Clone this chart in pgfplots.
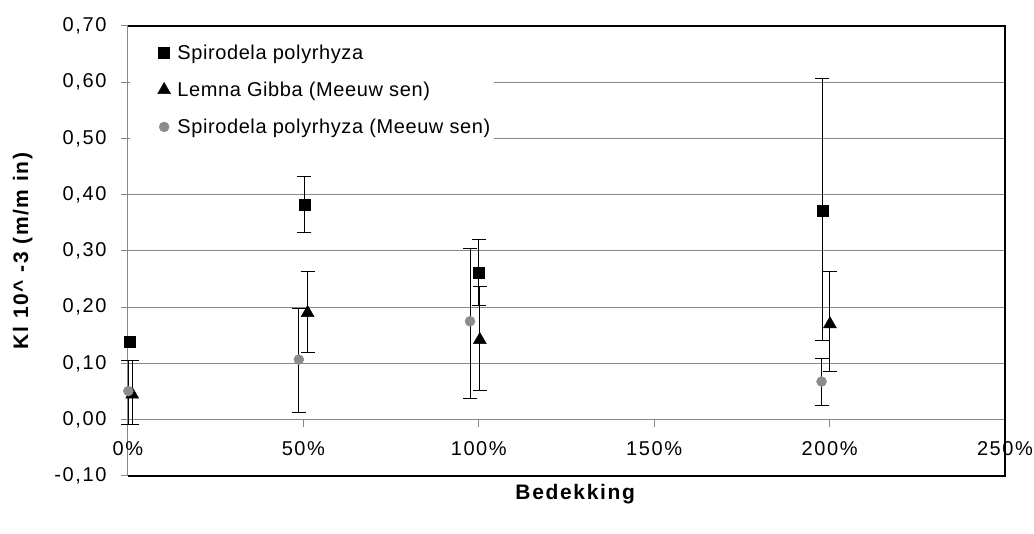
\documentclass[border=0pt]{standalone}
\usepackage{fontspec}
\setmainfont{Liberation Sans}
\newfontfamily\tickfont{Liberation Sans}[LetterSpace=8]
\newfontfamily\legfont{Liberation Sans}[LetterSpace=3]
\usepackage{pgfplots}
\pgfplotsset{compat=1.18}
\definecolor{gridgray}{RGB}{136,136,136}
\definecolor{ptgray}{RGB}{140,140,140}
\begin{document}
\begin{tikzpicture}
\begin{axis}[
  name=ax,
  scale only axis,
  width=877pt, height=450pt,
  xmin=0, xmax=250, ymin=-0.1, ymax=0.7,
  axis x line*=middle,
  axis y line*=left,
  axis line style={gridgray, line width=1pt},
  hide obscured x ticks=false,
  hide obscured y ticks=false,
  xtick={0,50,100,150,200,250},
  xticklabels={0\%,50\%,100\%,150\%,200\%,250\%},
  ytick={-0.1,0,0.1,0.2,0.3,0.4,0.5,0.6,0.7},
  tick align=outside,
  major tick length=7pt,
  tick style={gridgray, line width=1pt},
  ymajorgrids,
  grid style={gridgray, line width=1pt},
  yticklabel style={/pgf/number format/fixed, /pgf/number format/fixed zerofill, /pgf/number format/precision=2, /pgf/number format/use comma, /pgf/number format/assume math mode=true, xshift=-11pt},
  tick label style={font=\tickfont\fontsize{20}{24}\selectfont, black},
  xticklabel style={yshift=-11pt},
  xlabel={Bedekking},
  ylabel={Kl 10\^{} -3 (m/m in)},
  label style={font=\tickfont\bfseries\fontsize{21}{25}\selectfont},
  xlabel style={at={(axis description cs:0.51,-0.052)}, anchor=base},
  ylabel style={at={(axis description cs:-0.12,0.5)}, anchor=center},
  clip=false,
  legend cell align=left,
  legend style={at={(rel axis cs:0.002,0.985)}, anchor=north west, draw=none, fill=white,
    font=\legfont\fontsize{20}{24}\selectfont, row sep=17pt, inner xsep=2pt, inner ysep=10pt},
  legend image code/.code={\path (0pt,0pt) (43pt,0pt); \draw[#1] plot coordinates {(32pt,0pt)};},
  error bars/y dir=both, error bars/y explicit,
  error bars/error bar style={black, line width=1pt},
  error bars/error mark options={rotate=90, black, mark size=7pt, line width=1pt},
]
% Spirodela polyrhyza
\addplot[only marks, mark=square*, mark size=5.5pt, black]
  coordinates {
  (50.3,0.383) += (0,0.050) -= (0,0.050)
  (100.0,0.261) += (0,0.059) -= (0,0.058)
  (197.9,0.372) += (0,0.235) -= (0,0.232)
  };
\addlegendentry{Spirodela polyrhyza}
% Lemna Gibba (Meeuwsen)
\addplot[only marks, mark=triangle*, mark size=7.5pt, black]
  coordinates {
  (1.2,0.045) += (0,0.061) -= (0,0.053)
  (51.2,0.190) += (0,0.073) -= (0,0.070)
  (100.3,0.142) += (0,0.094) -= (0,0.090)
  (200.1,0.170) += (0,0.093) -= (0,0.084)
  };
\addlegendentry{Lemna Gibba (Meeuw sen)}
% Spirodela polyrhyza (Meeuwsen)
\addplot[only marks, mark=*, mark size=5pt, ptgray, mark options={draw=ptgray, fill=ptgray}]
  coordinates {
  (0.1,0.051) += (0,0.055) -= (0,0.059)
  (48.7,0.107) += (0,0.090) -= (0,0.094)
  (97.5,0.175) += (0,0.130) -= (0,0.138)
  (197.7,0.068) += (0,0.041) -= (0,0.043)
  };
\addlegendentry{Spirodela polyrhyza (Meeuw sen)}
\addplot[only marks, mark=square*, mark size=5.5pt, black, forget plot,
  error bars/y dir=none]
  coordinates {(0.6,0.139)};
\draw[black, line width=1.3pt] (rel axis cs:0,1) -- (rel axis cs:1,1) -- (rel axis cs:1,0) -- (rel axis cs:0,0);
\end{axis}
\pgfresetboundingbox
\path ([xshift=-128pt,yshift=-58pt]ax.south west) rectangle ([xshift=29pt,yshift=26pt]ax.north east);
\end{tikzpicture}
\end{document}
